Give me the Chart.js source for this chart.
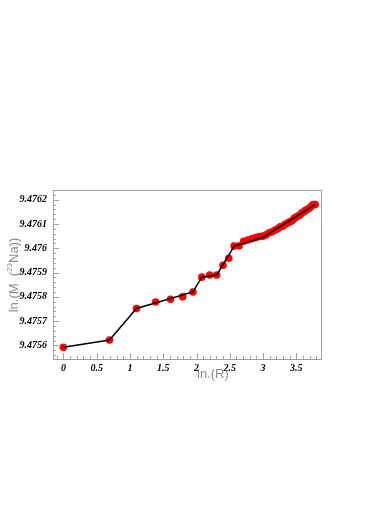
<!DOCTYPE html>
<html lang="en">
<head>
  <meta charset="UTF-8">
  <title>ln(M) vs ln(R)</title>
  <script src="https://cdn.jsdelivr.net/npm/chart.js@4.4.0/dist/chart.umd.min.js"></script>
  <style>
    body { margin: 0; background: #fff; }
    #wrap { width: 374px; height: 529px; }
  </style>
</head>
<body>
  <div id="wrap"><canvas id="chart" width="374" height="529"></canvas></div>

  <script>
    // data
    const lnR = [0, 0.693, 1.099, 1.386, 1.609, 1.792, 1.946, 2.079, 2.197, 2.303,
      2.398, 2.485, 2.565, 2.639, 2.708, 2.773, 2.833, 2.890, 2.944, 2.996,
      3.045, 3.091, 3.135, 3.178, 3.219, 3.258, 3.296, 3.332, 3.367, 3.401,
      3.434, 3.466, 3.497, 3.526, 3.555, 3.584, 3.611, 3.638, 3.664, 3.689,
      3.714, 3.738, 3.761, 3.784];
    const lnM = [9.475592, 9.475622, 9.475752, 9.475779, 9.47579, 9.4758, 9.47582, 9.475881, 9.47589, 9.47589,
      9.47593, 9.475959, 9.476009, 9.47601, 9.476029, 9.476034, 9.476039, 9.476044, 9.476048, 9.47605,
      9.476055, 9.476064, 9.476068, 9.476074, 9.47608, 9.476088, 9.476091, 9.476099, 9.476104, 9.476109,
      9.476113, 9.476123, 9.476129, 9.476133, 9.476137, 9.476146, 9.47615, 9.476156, 9.47616, 9.476164,
      9.47617, 9.476177, 9.47618, 9.47618];

    // black guide line (joins a subset of the points)
    const lineX = [0, 0.693, 1.099, 1.946, 2.079, 2.303, 2.565, 2.996, 3.784];
    const lineY = [9.475592, 9.475622, 9.475752, 9.47582, 9.475881, 9.47589, 9.476009, 9.476044, 9.47618];

    const xTicks = [0, 0.5, 1, 1.5, 2, 2.5, 3, 3.5];
    const xTickLabels = ['0', '0.5', '1', '1.5', '2', '2.5', '3', '3.5'];
    const yTicks = [9.4756, 9.4757, 9.4758, 9.4759, 9.476, 9.4761, 9.4762];
    const yTickLabels = ['9.4756', '9.4757', '9.4758', '9.4759', '9.476', '9.4761', '9.4762'];

    const xMin = -0.156, xMax = 3.87;
    const yMin = 9.475544, yMax = 9.47624;

    const tickFont = { family: 'Liberation Serif', size: 10, weight: 'bold', style: 'italic' };
    const frameColor = '#a0a0a0';
    const titleColor = '#8c8c8c';

    // frame, inward ticks and axis titles, ROOT style
    const rootAxes = {
      id: 'rootAxes',
      afterDraw(chart) {
        const { ctx, chartArea: a, scales: { x, y } } = chart;
        ctx.save();
        ctx.strokeStyle = frameColor;
        ctx.lineWidth = 1;
        ctx.strokeRect(Math.round(a.left) + 0.5, Math.round(a.top) + 0.5,
          Math.round(a.right - a.left), Math.round(a.bottom - a.top));

        ctx.beginPath();
        for (let v = -0.1; v <= xMax; v += 0.1) {
          const px = Math.round(x.getPixelForValue(v)) + 0.5;
          const major = Math.abs(v * 2 - Math.round(v * 2)) < 1e-6;
          ctx.moveTo(px, a.bottom);
          ctx.lineTo(px, a.bottom - (major ? 6 : 3));
        }
        for (let i = 0; i < 40; i++) {
          const v = 9.47554 + i * 0.00002;
          if (v < yMin || v > yMax) continue;
          const py = Math.round(y.getPixelForValue(v)) + 0.5;
          const major = i % 5 === 3;
          ctx.moveTo(a.left, py);
          ctx.lineTo(a.left + (major ? 6 : 3), py);
        }
        ctx.stroke();

        // x title
        ctx.fillStyle = titleColor;
        ctx.font = '13px "Liberation Sans"';
        ctx.textAlign = 'left';
        ctx.textBaseline = 'alphabetic';
        ctx.fillText('ln.(R)', 197, 378);

        // y title with superscript
        ctx.translate(18, 275);
        ctx.rotate(-Math.PI / 2);
        const parts = [['ln.(M  (', 13, 0], ['23', 8, -6], ['Na))', 13, 0]];
        let w = 0;
        parts.forEach(p => { ctx.font = p[1] + 'px "Liberation Sans"'; w += ctx.measureText(p[0]).width; });
        let cx = -w / 2;
        parts.forEach(p => {
          ctx.font = p[1] + 'px "Liberation Sans"';
          ctx.fillText(p[0], cx, p[2]);
          cx += ctx.measureText(p[0]).width;
        });
        ctx.restore();
      }
    };

    new Chart(document.getElementById('chart'), {
      type: 'scatter',
      data: {
        datasets: [
          {
            data: lineX.map((v, i) => ({ x: v, y: lineY[i] })),
            showLine: true,
            borderColor: '#000',
            borderWidth: 1.5,
            pointRadius: 0,
            tension: 0,
            order: 0
          },
          {
            data: lnR.map((v, i) => ({ x: v, y: lnM[i] })),
            showLine: false,
            backgroundColor: '#ff0000',
            borderWidth: 0,
            pointRadius: 3.8,
            order: 1
          }
        ]
      },
      options: {
        responsive: false,
        animation: false,
        layout: { padding: { top: 190, right: 53, left: 0, bottom: 0 } },
        plugins: { legend: { display: false }, tooltip: { enabled: false } },
        scales: {
          x: {
            type: 'linear',
            min: xMin,
            max: xMax,
            grid: { display: false, drawTicks: false },
            border: { display: false },
            afterBuildTicks: s => { s.ticks = xTicks.map(v => ({ value: v })); },
            afterFit: s => { s.height = 170; },
            ticks: {
              autoSkip: false,
              maxRotation: 0,
              padding: 3,
              color: '#000',
              font: tickFont,
              callback: (v, i) => xTickLabels[i]
            }
          },
          y: {
            type: 'linear',
            min: yMin,
            max: yMax,
            grid: { display: false, drawTicks: false },
            border: { display: false },
            afterBuildTicks: s => { s.ticks = yTicks.map(v => ({ value: v })); },
            afterFit: s => { s.width = 53; },
            ticks: {
              autoSkip: false,
              padding: 6,
              color: '#000',
              font: tickFont,
              callback: (v, i) => yTickLabels[i]
            }
          }
        }
      },
      plugins: [rootAxes]
    });
  </script>
</body>
</html>
